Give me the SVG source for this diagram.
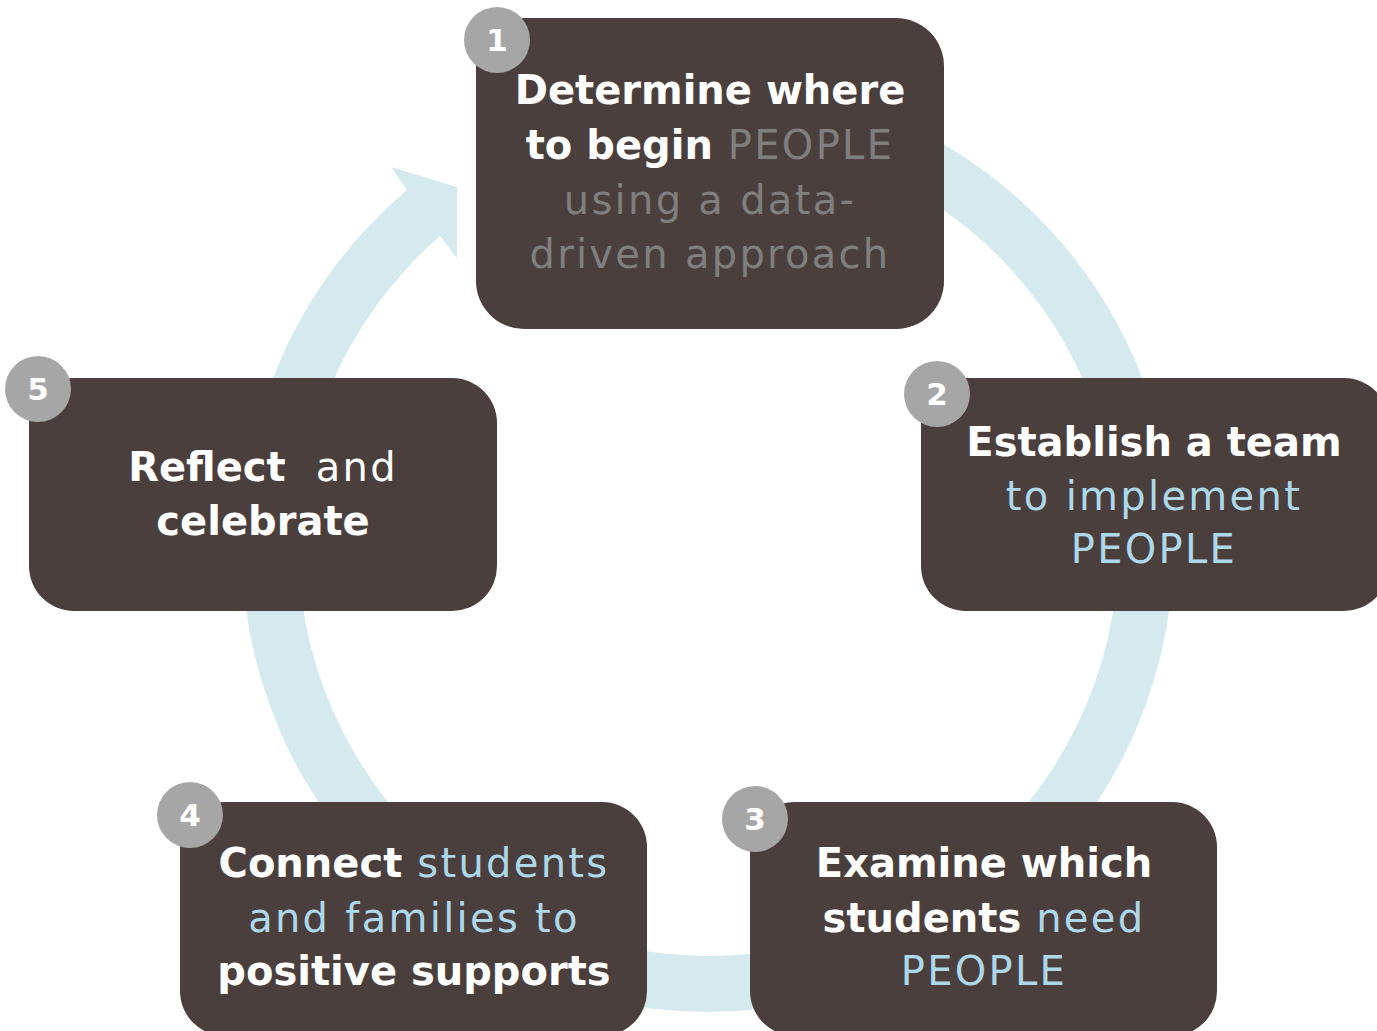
<svg xmlns="http://www.w3.org/2000/svg" width="1377" height="1031" viewBox="0 0 1377 1031">
<style>
.node{fill:#4b3f3e}
.num{fill:#a6a6a6}
.numt{font-family:"DejaVu Sans",sans-serif;font-weight:bold;font-size:31px;fill:#ffffff;text-anchor:middle}
.t{font-family:"DejaVu Sans",sans-serif;font-size:40px;text-anchor:middle;fill:#ffffff}
.b{font-weight:bold;fill:#ffffff}
.r{font-weight:normal;letter-spacing:2.3px}
.g{fill:#7f7f7f}
.u{fill:#add8ea}
.ring{fill:#d5eaee}
</style>
<rect width="1377" height="1031" fill="#ffffff"/>
<g id="connectors">
<path class="ring" d="M 710 80 A 466 466 0 1 1 407 190 L 391 167 L 457 187 L 457 258 L 440 236 A 410 410 0 1 0 710 136 Z"/>
</g>
<g id="node1">
<rect class="node" x="476" y="18" width="468" height="311" rx="48"/>
<circle class="num" cx="497" cy="40" r="33"/>
<text class="numt" x="497" y="51">1</text>
<text class="t" x="710" y="104"><tspan class="b">Determine where</tspan></text>
<text class="t" x="710" y="159"><tspan class="b">to begin</tspan><tspan class="r g"> PEOPLE</tspan></text>
<text class="t r g" x="710" y="214">using a data-</text>
<text class="t r g" x="710" y="268">driven approach</text>
</g>
<g id="node2">
<rect class="node" x="921" y="378" width="468" height="233" rx="45"/>
<circle class="num" cx="937" cy="394" r="33"/>
<text class="numt" x="937" y="405">2</text>
<text class="t" x="1154" y="456"><tspan class="b">Establish a team</tspan></text>
<text class="t r u" x="1154" y="510">to implement</text>
<text class="t r u" x="1154" y="563">PEOPLE</text>
</g>
<g id="node3">
<rect class="node" x="750" y="802" width="467" height="234" rx="45"/>
<circle class="num" cx="755" cy="819" r="33"/>
<text class="numt" x="755" y="830">3</text>
<text class="t" x="984" y="877"><tspan class="b">Examine which</tspan></text>
<text class="t" x="984" y="932"><tspan class="b">students</tspan><tspan class="r u"> need</tspan></text>
<text class="t r u" x="984" y="985">PEOPLE</text>
</g>
<g id="node4">
<rect class="node" x="180" y="802" width="467" height="234" rx="45"/>
<circle class="num" cx="190" cy="815" r="33"/>
<text class="numt" x="190" y="826">4</text>
<text class="t" x="414" y="877"><tspan class="b">Connect</tspan><tspan class="r u"> students</tspan></text>
<text class="t r u" x="414" y="932">and families to</text>
<text class="t" x="414" y="985"><tspan class="b">positive supports</tspan></text>
</g>
<g id="node5">
<rect class="node" x="29" y="378" width="468" height="233" rx="45"/>
<circle class="num" cx="38" cy="389" r="33"/>
<text class="numt" x="38" y="400">5</text>
<text class="t" x="263" y="481" xml:space="preserve"><tspan class="b">Reflect</tspan><tspan class="r">  and</tspan></text>
<text class="t" x="263" y="535"><tspan class="b">celebrate</tspan></text>
</g>
</svg>
